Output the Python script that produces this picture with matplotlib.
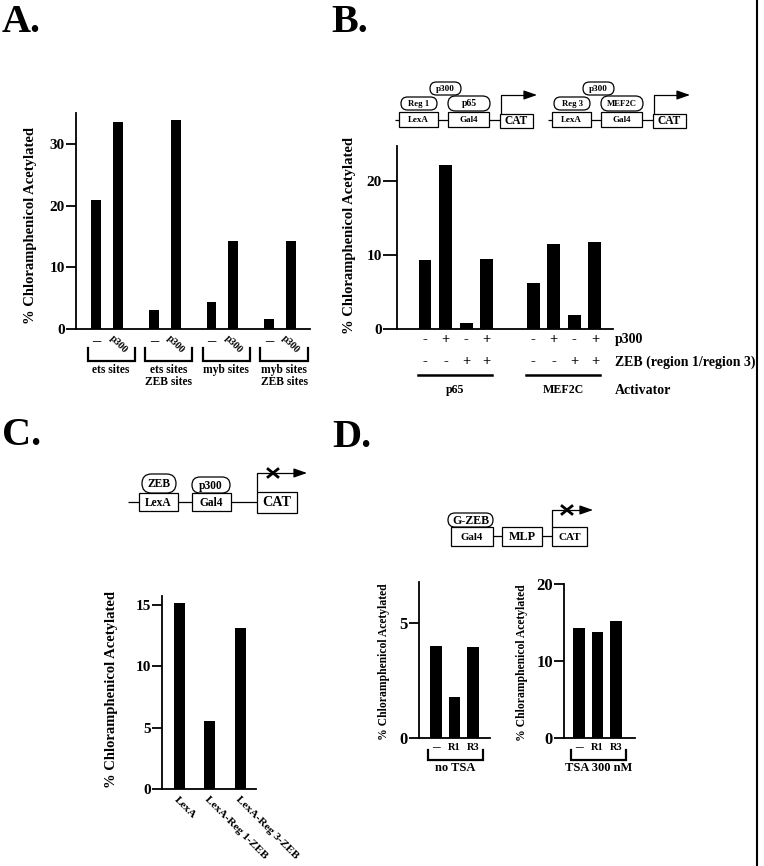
import matplotlib
matplotlib.use("Agg")
import matplotlib.pyplot as plt
from matplotlib.patches import Rectangle, FancyBboxPatch
from matplotlib.transforms import blended_transform_factory
import numpy as np

# ---------------- data ----------------
# Panel A
groups_A = ["ets sites", "ets sites\nZEB sites", "myb sites", "myb sites\nZEB sites"]
cond_A = ["\u2013", "p300"]
minus_A = [20.9, 3.0, 4.3, 1.6]
p300_A = [33.5, 33.9, 14.3, 14.3]
yticks_A = [0, 10, 20, 30]

# Panel B
activators_B = ["p65", "MEF2C"]
p65_B = [9.3, 22.2, 0.8, 9.5]
mef2c_B = [6.2, 11.5, 1.9, 11.7]
p300_signs_B = ["-", "+", "-", "+"]
zeb_signs_B = ["-", "-", "+", "+"]
row_labels_B = ["p300", "ZEB (region 1/region 3)", "Activator"]
yticks_B = [0, 10, 20]

# Panel C
cats_C = ["LexA", "LexA-Reg 1-ZEB", "LexA-Reg 3-ZEB"]
vals_C = [15.1, 5.5, 13.1]
yticks_C = [0, 5, 10, 15]

# Panel D
cats_D = ["\u2013", "R1", "R3"]
noTSA_D = [4.0, 1.8, 3.95]
TSA_D = [14.3, 13.8, 15.2]
yticks_D1 = [0, 5]
yticks_D2 = [0, 10, 20]

YLABEL = "% Chloramphenicol Acetylated"

# ---------------- setup ----------------
W, H = 764, 866
plt.rcParams['font.family'] = ['Liberation Serif', 'DejaVu Serif']
plt.rcParams['font.weight'] = 'bold'
fig = plt.figure(figsize=(W / 100, H / 100), dpi=100)
fig.patch.set_facecolor('white')

ov = fig.add_axes([0, 0, 1, 1])
ov.set_xlim(0, W)
ov.set_ylim(H, 0)
ov.axis('off')
ov.patch.set_visible(False)


def axpx(l, t, r, b):
    a = fig.add_axes([l / W, 1 - b / H, (r - l) / W, (b - t) / H])
    a.patch.set_visible(False)
    for s in ['top', 'right']:
        a.spines[s].set_visible(False)
    for s in ['left', 'bottom']:
        a.spines[s].set_linewidth(1.3)
    return a


def bt(ax):
    return blended_transform_factory(ax.transData, ov.transData)


def bracket(ax, x0, x1, ytop, ybot):
    ax.plot([x0, x0, x1, x1], [ytop, ybot, ybot, ytop], color='black', lw=1.6,
            transform=bt(ax), clip_on=False, solid_joinstyle='miter')


def box(x0, y0, x1, y1, text, fs):
    ov.add_patch(Rectangle((x0, y0), x1 - x0, y1 - y0, fc='white', ec='black', lw=0.9,
                           zorder=3))
    ov.text((x0 + x1) / 2, (y0 + y1) / 2 + 0.5, text, ha='center', va='center', fontsize=fs,
            fontweight='bold', zorder=4)


def oval(x0, y0, x1, y1, text, fs):
    h = y1 - y0
    ov.add_patch(FancyBboxPatch((x0, y0), x1 - x0, h,
                                boxstyle=f"round,pad=0,rounding_size={h / 2}",
                                fc='white', ec='black', lw=0.9, zorder=3))
    ov.text((x0 + x1) / 2, (y0 + y1) / 2 + 0.5, text, ha='center', va='center', fontsize=fs,
            fontweight='bold', zorder=4)


def line(xs, ys, lw=0.9):
    ov.plot(xs, ys, color='black', lw=lw, solid_capstyle='butt', zorder=2)


def arrow(x0, y0, ytop, xend, lw=0.9):
    line([x0, x0, xend - 6], [y0, ytop, ytop], lw)
    ov.annotate('', xy=(xend, ytop), xytext=(xend - 9, ytop),
                arrowprops=dict(arrowstyle='-|>,head_length=0.8,head_width=0.28',
                                color='black', lw=lw, shrinkA=0, shrinkB=0))


def xmark(xc, yc, s, lw=2.0):
    line([xc - s, xc + s], [yc - s * 0.8, yc + s * 0.8], lw)
    line([xc - s, xc + s], [yc + s * 0.8, yc - s * 0.8], lw)


# panel letters
for lab, x, y in [("A.", 2, 32), ("B.", 331, 32), ("C.", 2, 445), ("D.", 332, 447)]:
    ov.text(x, y, lab, fontsize=29, fontweight='bold', va='baseline', ha='left')

# right border line
ov.plot([757, 757], [0, H], color='black', lw=1.5)

# ---------------- Panel A ----------------
axA = axpx(76, 113, 310, 329)
ng = len(groups_A)
gx = np.arange(ng)
off = 0.19
wA = 0.17
axA.bar(gx - off, minus_A, width=wA, color='black')
axA.bar(gx + off, p300_A, width=wA, color='black')
axA.set_xlim(-0.54, 3.52)
axA.set_ylim(0, 35)
axA.set_yticks(yticks_A)
axA.tick_params(axis='y', length=7, width=1.3, labelsize=11, pad=1)
pos = np.ravel(np.column_stack([gx - off, gx + off]))
axA.set_xticks(pos)
axA.set_xticklabels(cond_A * ng, fontsize=8)
axA.tick_params(axis='x', length=0, pad=3)
for i, t in enumerate(axA.get_xticklabels()):
    if i % 2 == 1:
        t.set_rotation(-45)
        t.set_fontsize(7.5)
    else:
        t.set_fontsize(12)
for g, lab in zip(gx, groups_A):
    bracket(axA, g - 0.34, g + 0.48, 348, 361)
    axA.text(g + 0.07, 364, lab, transform=bt(axA), ha='center', va='top', fontsize=8.3,
             fontweight='bold', linespacing=1.05)
ov.text(31, 225, YLABEL, rotation=90, ha='center', va='center', fontsize=10.5, fontweight='bold')

# ---------------- Panel B ----------------
axB = axpx(397, 146, 613, 329)
gap = 5.25
xb1 = np.arange(len(p65_B))
xb2 = np.arange(len(mef2c_B)) + gap
wB = 0.63
axB.bar(xb1, p65_B, width=wB, color='black')
axB.bar(xb2, mef2c_B, width=wB, color='black')
axB.set_xlim(-1.36, 9.13)
axB.set_ylim(0, 24.7)
axB.set_yticks(yticks_B)
axB.tick_params(axis='y', length=10, width=1.3, labelsize=11, pad=1)
axB.set_xticks([])
for xs in (xb1, xb2):
    for x, s1, s2 in zip(xs, p300_signs_B, zeb_signs_B):
        axB.text(x, 340, s1, transform=bt(axB), ha='center', va='center', fontsize=10.5,
                 fontweight='bold')
        axB.text(x, 362, s2, transform=bt(axB), ha='center', va='center', fontsize=10.5,
                 fontweight='bold')
for xs, lab in zip((xb1, xb2), activators_B):
    axB.plot([xs[0] - 0.35, xs[-1] + 0.25], [375, 375], color='black', lw=1.8,
             transform=bt(axB), clip_on=False)
    axB.text((xs[0] + xs[-1]) / 2 - 0.05, 390, lab, transform=bt(axB), ha='center',
             va='center', fontsize=8.6, fontweight='bold')
for lab, y in zip(row_labels_B, [340, 362, 390]):
    ov.text(615, y, lab, ha='left', va='center', fontsize=10, fontweight='bold')
ov.text(349, 235, YLABEL, rotation=90, ha='center', va='center', fontsize=10.5, fontweight='bold')

# B diagrams
for dx, reg, act in [(0, "Reg 1", "p65"), (153, "Reg 3", "MEF2C")]:
    line([395 + dx, 500 + dx], [120, 120])
    box(399 + dx, 112, 438 + dx, 127, "LexA", 6.5)
    box(448 + dx, 112, 489 + dx, 127, "Gal4", 6.5)
    box(500 + dx, 114, 533 + dx, 128, "CAT", 8.3)
    oval(401 + dx, 97, 437 + dx, 110, reg, 6.3)
    oval(448 + dx, 96, 490 + dx, 111, act, 7 if act == "p65" else 6.3)
    oval(430 + dx, 82, 461 + dx, 95, "p300", 6.6)
    arrow(501 + dx, 114, 95, 537 + dx)

# ---------------- Panel C ----------------
axC = axpx(162, 596, 256, 789)
xc = np.arange(len(vals_C))
axC.bar(xc, vals_C, width=0.36, color='black')
axC.set_xlim(-0.56, 2.52)
axC.set_ylim(0, 15.7)
axC.set_yticks(yticks_C)
axC.tick_params(axis='y', length=7, width=1.3, labelsize=11, pad=1)
axC.set_xticks(xc)
axC.set_xticklabels(cats_C, rotation=-45, ha='left', va='top', rotation_mode='anchor',
                    fontsize=8.2)
axC.tick_params(axis='x', length=0, pad=4)
ov.text(112, 689, YLABEL, rotation=90, ha='center', va='center', fontsize=10.5, fontweight='bold')

# C diagram
line([128, 257], [502, 502])
box(139, 493, 178, 511, "LexA", 8.3)
box(192, 493, 231, 511, "Gal4", 8.3)
box(257, 492, 297, 513, "CAT", 10.2)
oval(142, 474, 176, 493, "ZEB", 8.4)
oval(192, 477, 230, 493, "p300", 8.3)
arrow(257, 492, 473, 307)
xmark(273, 473, 6)

# ---------------- Panel D ----------------
axD1 = axpx(419, 582, 490, 738)
xd = np.arange(len(noTSA_D))
axD1.bar(xd, noTSA_D, width=0.6, color='black')
axD1.set_xlim(-0.92, 2.92)
axD1.set_ylim(0, 6.8)
axD1.set_yticks(yticks_D1)
axD1.tick_params(axis='y', length=7, width=1.3, labelsize=12, pad=1)

axD2 = axpx(564, 584, 635, 738)
axD2.bar(xd, TSA_D, width=0.6, color='black')
axD2.set_xlim(-0.81, 3.03)
axD2.set_ylim(0, 20)
axD2.set_yticks(yticks_D2)
axD2.tick_params(axis='y', length=7, width=1.3, labelsize=12, pad=1)

for a, lab in [(axD1, "no TSA"), (axD2, "TSA 300 nM")]:
    a.set_xticks([])
    for x, c in zip(xd, cats_D):
        a.text(x, 748, c, transform=bt(a), ha='center', va='center',
               fontsize=11 if c == "\u2013" else 7.5, fontweight='bold')
    bracket(a, -0.43, 2.52, 750, 760)
    a.text(1.05, 768, lab, transform=bt(a), ha='center', va='center', fontsize=9,
           fontweight='bold')
ov.text(384, 662, YLABEL, rotation=90, ha='center', va='center', fontsize=8.4, fontweight='bold')
ov.text(522, 663, YLABEL, rotation=90, ha='center', va='center', fontsize=8.4, fontweight='bold')

# D diagram
line([493, 552], [536, 536])
box(451, 527, 493, 546, "Gal4", 7.8)
box(502, 527, 542, 546, "MLP", 8.7)
box(552, 527, 587, 546, "CAT", 8.0)
oval(448, 513, 493, 527, "G-ZEB", 8.6)
arrow(552, 527, 510, 593)
xmark(567, 510, 6)

fig.savefig("out.png", dpi=100, facecolor='white')
